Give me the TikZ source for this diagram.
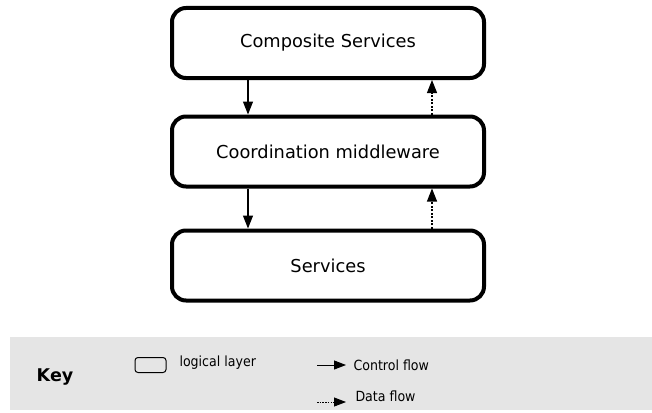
\documentclass[tikz,border=0pt]{standalone}
\usepackage{fontspec}
\setmainfont{DejaVu Sans}
\newfontfamily\condfont{DejaVu Sans Condensed}
\usetikzlibrary{arrows.meta}
\begin{document}
\begin{tikzpicture}[x=1pt,y=-1pt,
  layer/.style={draw, line width=4pt, rounded corners=14pt, minimum width=312pt, minimum height=70pt, font=\fontsize{17.8}{20}\selectfont},
  ctrl/.style={-{Triangle[length=13pt,width=10pt]}, line width=1.1pt},
  dataf/.style={-{Triangle[length=13pt,width=10pt]}, line width=1.1pt, dash pattern=on 2pt off 1.5pt},
  kctrl/.style={-{Triangle[length=12pt,width=9pt]}, line width=1pt},
  kdata/.style={-{Triangle[length=12pt,width=9pt]}, line width=0.9pt, dash pattern=on 1.5pt off 1.2pt},
  keytxt/.style={font=\condfont\fontsize{14}{16}\selectfont, anchor=west}]
\useasboundingbox (0,0) rectangle (652,412);
\fill[fill=black!10] (10,337) rectangle (652,410);
\node[layer] (cs) at (328,43) {Composite Services};
\node[layer] (cm) at (328,151.5) {Coordination middleware};
\node[layer] (sv) at (328,265.5) {Services};
\draw[ctrl] (cs.south -| 248,0) -- (cm.north -| 248,0);
\draw[dataf] (cm.north -| 432,0) -- (cs.south -| 432,0);
\draw[ctrl] (cm.south -| 248,0) -- (sv.north -| 248,0);
\draw[dataf] (sv.north -| 432,0) -- (cm.south -| 432,0);
\node[font=\bfseries\fontsize{17.5}{20}\selectfont] (key) at (55,377) {Key};
\node[draw, line width=1pt, rounded corners=3pt, minimum width=31pt, minimum height=15pt] (lg) at (150.5,365) {};
\node[keytxt] (lgt) at (176,363) {logical layer};
\coordinate (c1) at (317,365);
\coordinate (c2) at (346,365);
\draw[kctrl] (c1) -- (c2);
\node[keytxt] (ct) at (350,365) {Control flow};
\coordinate (d1) at (317,402);
\coordinate (d2) at (346,402);
\draw[kdata] (d1) -- (d2);
\node[keytxt] (dt) at (352,396) {Data flow};
\end{tikzpicture}
\end{document}
